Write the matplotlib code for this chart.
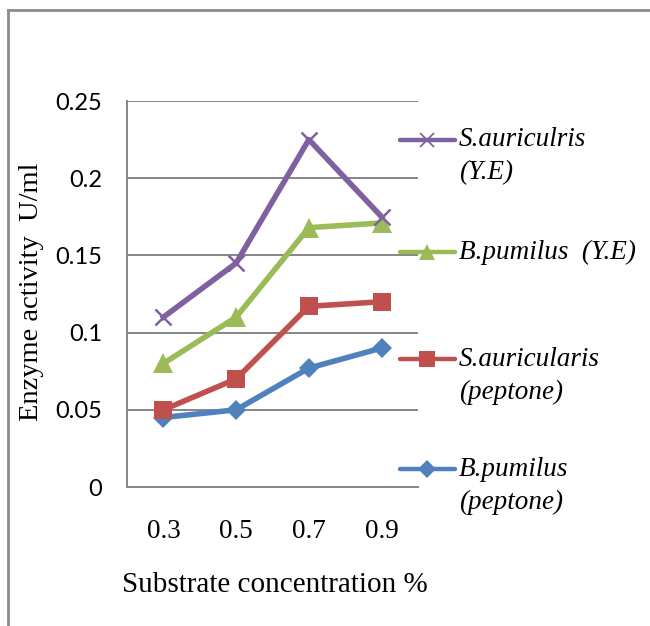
import matplotlib
matplotlib.use("Agg")
import matplotlib.pyplot as plt
from matplotlib.lines import Line2D

concentrations = ["0.3", "0.5", "0.7", "0.9"]
s_aur_ye = [0.11, 0.145, 0.225, 0.175]
b_pum_ye = [0.08, 0.11, 0.168, 0.171]
s_aur_pep = [0.05, 0.07, 0.117, 0.12]
b_pum_pep = [0.045, 0.05, 0.077, 0.09]
y_ticks = [0, 0.05, 0.1, 0.15, 0.2, 0.25]
y_tick_labels = ["0", "0.05", "0.1", "0.15", "0.2", "0.25"]

series = [
    (s_aur_ye, "#7F60A0", "x", 12, ["S.auriculris", "(Y.E)"]),
    (b_pum_ye, "#9BBB59", "^", 14, ["B.pumilus  (Y.E)"]),
    (s_aur_pep, "#C0504D", "s", 13, ["S.auricularis", "(peptone)"]),
    (b_pum_pep, "#4F81BD", "D", 10.5, ["B.pumilus", "(peptone)"]),
]

W, H = 650, 626
fig = plt.figure(figsize=(W / 100, H / 100), dpi=100)
ax = fig.add_axes([127 / W, 1 - 487 / H, (418 - 127) / W, (487 - 101) / H])

x = list(range(len(concentrations)))
for vals, col, mk, ms, lab in series[::-1]:
    mew = 1.8 if mk == "x" else 0
    ax.plot(x, vals, color=col, lw=4, marker=mk, ms=ms, mec=col, mfc=col,
            mew=mew, clip_on=False, zorder=3)

ax.set_xlim(-0.5, 3.5)
ax.set_ylim(0, 0.25)
ax.set_xticks(x)
ax.set_xticklabels(concentrations, family="Liberation Serif", fontsize=19.5)
ax.set_yticks(y_ticks)
ax.set_yticklabels(y_tick_labels, family="Lato", fontsize=17)
ax.tick_params(axis="both", length=0)
ax.tick_params(axis="x", pad=23)
ax.tick_params(axis="y", pad=18)
ax.grid(axis="y", color="#868686", lw=1.4)
ax.set_axisbelow(True)
for s in ["top", "right"]:
    ax.spines[s].set_visible(False)
for s in ["left", "bottom"]:
    ax.spines[s].set_color("#868686")
    ax.spines[s].set_linewidth(1.4)

fig.text(275 / W, 1 - 585 / H, "Substrate concentration %", family="Liberation Serif",
         fontsize=21, ha="center", va="center")
fig.text(32 / W, 1 - 292 / H, "Enzyme activity  U/ml", family="Liberation Serif",
         fontsize=20.5, ha="center", va="center", rotation=90)

# legend drawn manually
leg_y = [140, 252, 359, 469]
for (vals, col, mk, ms, lab), yy in zip(series, leg_y):
    yf = 1 - yy / H
    fig.add_artist(Line2D([400 / W, 455 / W], [yf, yf], transform=fig.transFigure,
                          color=col, lw=3.2, solid_capstyle="round"))
    mew = 1.3 if mk == "x" else 0
    fig.add_artist(Line2D([427 / W], [yf], transform=fig.transFigure, color=col,
                          marker=mk, ms=ms * 0.85, mfc=col, mec=col, mew=mew))
    for i, line in enumerate(lab):
        fig.text(459 / W, 1 - (yy + i * 33) / H, line, family="Liberation Serif",
                 style="italic", fontsize=19.5, ha="left", va="center")

# outer frame
fig.add_artist(Line2D([8 / W, 8 / W], [0, 1 - 10 / H], transform=fig.transFigure,
                      color="#8c8c8c", lw=2))
fig.add_artist(Line2D([8 / W, 1], [1 - 10 / H, 1 - 10 / H], transform=fig.transFigure,
                      color="#8c8c8c", lw=2))

fig.savefig("out.png", dpi=100)
